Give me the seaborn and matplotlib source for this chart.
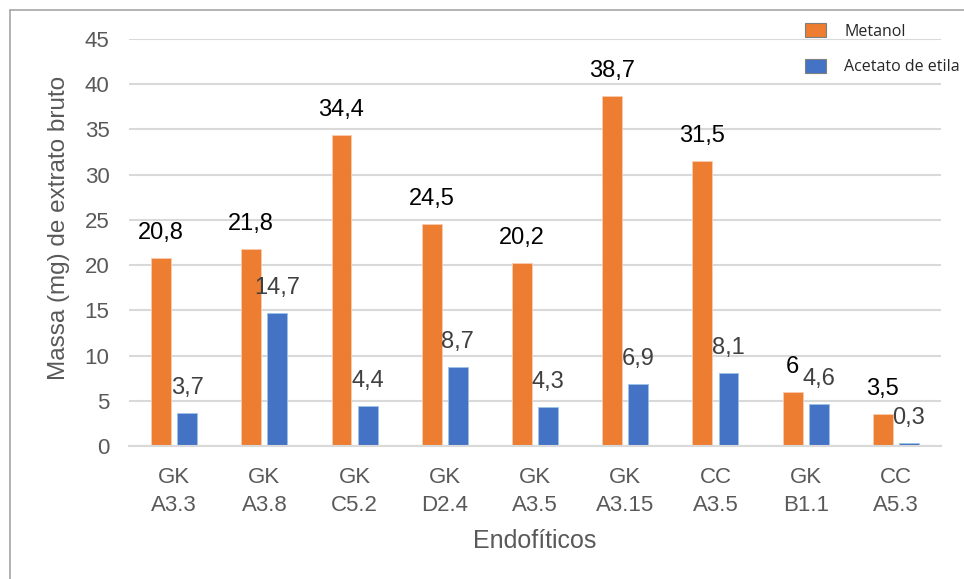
import matplotlib
matplotlib.use("Agg")
import matplotlib.pyplot as plt
import seaborn as sns
import pandas as pd
from matplotlib.lines import Line2D
from matplotlib.patches import Patch

categories = ["GK\nA3.3", "GK\nA3.8", "GK\nC5.2", "GK\nD2.4", "GK\nA3.5",
              "GK\nA3.15", "CC\nA3.5", "GK\nB1.1", "CC\nA5.3"]
metanol = [20.8, 21.8, 34.4, 24.5, 20.2, 38.7, 31.5, 6, 3.5]
acetato = [3.7, 14.7, 4.4, 8.7, 4.3, 6.9, 8.1, 4.6, 0.3]
series = ["Metanol", "Acetato de etila"]
yticks = [0, 5, 10, 15, 20, 25, 30, 35, 40, 45]

df = pd.DataFrame({
    "cat": categories * 2,
    "val": metanol + acetato,
    "serie": [series[0]] * len(categories) + [series[1]] * len(categories),
})

sns.set_style("white")
plt.rcParams["font.family"] = ["Liberation Sans", "DejaVu Sans"]

colors = {"Metanol": "#ED7D31", "Acetato de etila": "#4472C4"}

fig = plt.figure(figsize=(9.64, 5.79), dpi=100)
ax = fig.add_axes([129 / 964, 1 - 446 / 579, (941 - 129) / 964, (446 - 39) / 579])

sns.barplot(data=df, x="cat", y="val", hue="serie", palette=colors, ax=ax,
            width=0.58, gap=0.24, legend=False, edgecolor="#F8CBAD", linewidth=0.6,
            errorbar=None, saturation=1)
n = len(categories)
for p in ax.patches[n:2 * n]:
    p.set_edgecolor("#9DC3E6")

ax.set_ylim(0, 45)
ax.set_xlim(-0.5, n - 0.5)
ax.set_yticks(yticks)
ax.yaxis.grid(True, color="#D9D9D9", linewidth=1.5)
ax.set_axisbelow(True)
for s in ["top", "right", "left"]:
    ax.spines[s].set_visible(False)
ax.spines["bottom"].set_color("#D9D9D9")
ax.spines["bottom"].set_linewidth(1.5)
ax.tick_params(axis="both", length=0, labelsize=16, colors="#595959")
ax.tick_params(axis="y", pad=14)
ax.tick_params(axis="x", pad=15)
for t in ax.get_xticklabels():
    t.set_linespacing(1.45)

ax.set_xlabel("Endofíticos", fontsize=18, color="#595959", labelpad=9)
ax.set_ylabel("Massa (mg) de extrato bruto", fontsize=17.5, color="#595959")
ax.yaxis.set_label_coords(-59 / 812, (446 - 228) / 407)

def fmt(v):
    return ("%g" % v).replace(".", ",")

for i, p in enumerate(ax.patches[:2 * n]):
    v = metanol[i] if i < n else acetato[i - n]
    col = "black" if i < n else "#404040"
    ax.annotate(fmt(v), (p.get_x() + p.get_width() / 2, p.get_height()),
                xytext=(0, 18), textcoords="offset points", ha="center", va="center",
                fontsize=17, color=col)

handles = [Patch(facecolor=colors[s], edgecolor="#7F7F7F", linewidth=0.8) for s in series]
fig.legend(handles, series, loc="upper left", bbox_to_anchor=(805 / 964, 1 - 23 / 579),
           frameon=False, handlelength=1.3, handleheight=1.0,
           labelspacing=1.2, handletextpad=1.15, borderpad=0, borderaxespad=0,
           labelcolor="#262626", prop={"family": ["Open Sans", "DejaVu Sans"], "size": 11.5})

fig.add_artist(Line2D([10 / 964, 1], [1 - 10 / 579, 1 - 10 / 579], color="#A6A6A6", lw=1.2))
fig.add_artist(Line2D([10 / 964, 10 / 964], [0, 1 - 10 / 579], color="#A6A6A6", lw=1.2))

fig.savefig("out.png", dpi=100)
